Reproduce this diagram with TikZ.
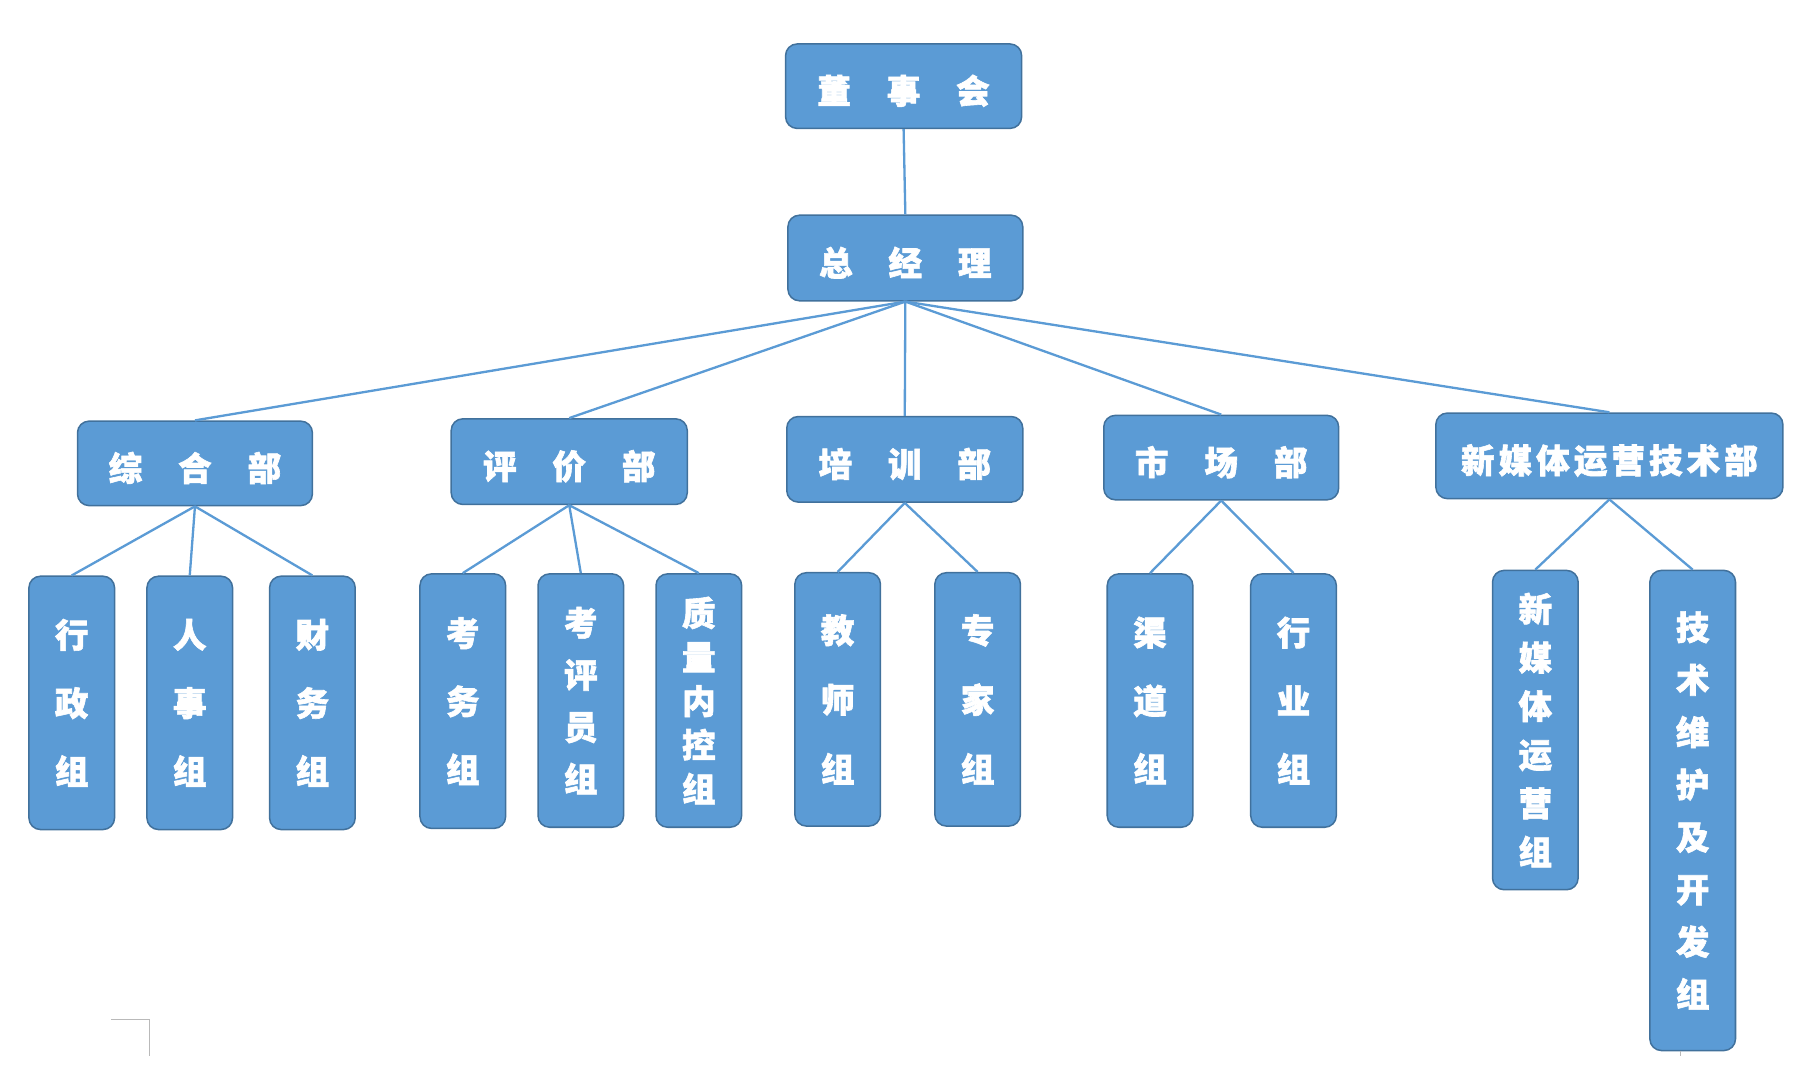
\documentclass[tikz,border=0pt]{standalone}
\usepackage{fontspec}
\setmainfont{Noto Sans CJK SC}[BoldFeatures={FakeBold=1.8}]
\definecolor{boxfill}{HTML}{5B9BD5}
\definecolor{boxline}{HTML}{41719C}
\definecolor{connline}{HTML}{5B9BD5}
\begin{document}
\begin{tikzpicture}[x=1pt,y=-1pt,
  hbx/.style={draw=boxline,line width=1.3pt,fill=boxfill,rounded corners=10pt,
    inner sep=0pt,text=white,font=\fontsize{29}{30}\selectfont\bfseries,
    minimum width=204pt,minimum height=74pt},
  vbx/.style={draw=boxline,line width=1.3pt,fill=boxfill,rounded corners=10pt,
    inner sep=0pt,text=white,align=center,minimum width=74pt},
  conn/.style={draw=connline,line width=2pt},
  pagemark/.style={draw=gray!55,line width=0.8pt}]
\useasboundingbox (0,0) rectangle (1567,933);
\newcommand{\gp}{\hspace{31pt}}
\newcommand{\lift}[1]{\raisebox{-4pt}[\height][\depth]{#1}}
% top levels
\node[hbx,minimum width=204pt,minimum height=73pt] (dsh) at (781,74.5) {\lift{董\gp 事\gp 会}};
\node[hbx,minimum width=203pt] (zjl) at (782.5,223) {\lift{总\gp 经\gp 理}};
% departments
\node[hbx,minimum width=203pt,minimum height=73pt] (zh) at (168.5,400.5) {\lift{综\gp 合\gp 部}};
\node[hbx] (pj) at (492,399) {\lift{评\gp 价\gp 部}};
\node[hbx] (px) at (782,397) {\lift{培\gp 训\gp 部}};
\node[hbx,minimum width=203pt,minimum height=73pt] (sc) at (1055.5,395.5) {\lift{市\gp 场\gp 部}};
\node[hbx,minimum width=300pt] (xm) at (1391,394) {\lift{新\hspace{3.5pt}媒\hspace{3.5pt}体\hspace{3.5pt}运\hspace{3.5pt}营\hspace{3.5pt}技\hspace{3.5pt}术\hspace{3.5pt}部}};
% groups
\node[vbx,minimum height=219pt,font=\fontsize{29}{59}\selectfont\bfseries] (xz) at (62,607.5) {行\\政\\组};
\node[vbx,minimum height=219pt,font=\fontsize{29}{59}\selectfont\bfseries] (rs) at (164,607.5) {人\\事\\组};
\node[vbx,minimum height=219pt,font=\fontsize{29}{59}\selectfont\bfseries] (cw) at (270,607.5) {财\\务\\组};
\node[vbx,minimum height=220pt,font=\fontsize{29}{59}\selectfont\bfseries] (kw) at (400,606) {考\\务\\组};
\node[vbx,minimum height=219pt,font=\fontsize{29}{45}\selectfont\bfseries] (kpy) at (502,605.5) {考\\评\\员\\组};
\node[vbx,minimum height=219pt,font=\fontsize{29}{38}\selectfont\bfseries] (zl) at (604,605.5) {质\\量\\内\\控\\组};
\node[vbx,minimum height=219pt,font=\fontsize{29}{60}\selectfont\bfseries] (js) at (724,604.5) {教\\师\\组};
\node[vbx,minimum height=219pt,font=\fontsize{29}{60}\selectfont\bfseries] (zj) at (845,604.5) {专\\家\\组};
\node[vbx,minimum height=219pt,font=\fontsize{29}{59}\selectfont\bfseries] (qd) at (994,605.5) {渠\\道\\组};
\node[vbx,minimum height=219pt,font=\fontsize{29}{59}\selectfont\bfseries] (hy) at (1118,605.5) {行\\业\\组};
\node[vbx,minimum height=276pt,font=\fontsize{29}{42}\selectfont\bfseries] (xmz) at (1327,631) {新\\媒\\体\\运\\营\\组};
\node[vbx,minimum height=415pt,font=\fontsize{29}{45.3}\selectfont\bfseries] (jsz) at (1463,700.5) {技\\术\\维\\护\\及\\开\\发\\组};
% connectors
\draw[conn] (dsh.south) -- (zjl.north);
\foreach \d in {zh,pj,px,sc,xm}{\draw[conn] (zjl.south) -- (\d.north);}
\foreach \g in {xz,rs,cw}{\draw[conn] (zh.south) -- (\g.north);}
\foreach \g in {kw,kpy,zl}{\draw[conn] (pj.south) -- (\g.north);}
\foreach \g in {js,zj}{\draw[conn] (px.south) -- (\g.north);}
\foreach \g in {qd,hy}{\draw[conn] (sc.south) -- (\g.north);}
\foreach \g in {xmz,jsz}{\draw[conn] (xm.south) -- (\g.north);}
% page marks
\coordinate (m1) at (96,881);
\coordinate (m2) at (129,881);
\coordinate (m3) at (129,913);
\coordinate (m4) at (1452,908);
\coordinate (m5) at (1452,913);
\draw[pagemark] (m1) -- (m2) -- (m3);
\draw[pagemark] (m4) -- (m5);
\end{tikzpicture}
\end{document}
